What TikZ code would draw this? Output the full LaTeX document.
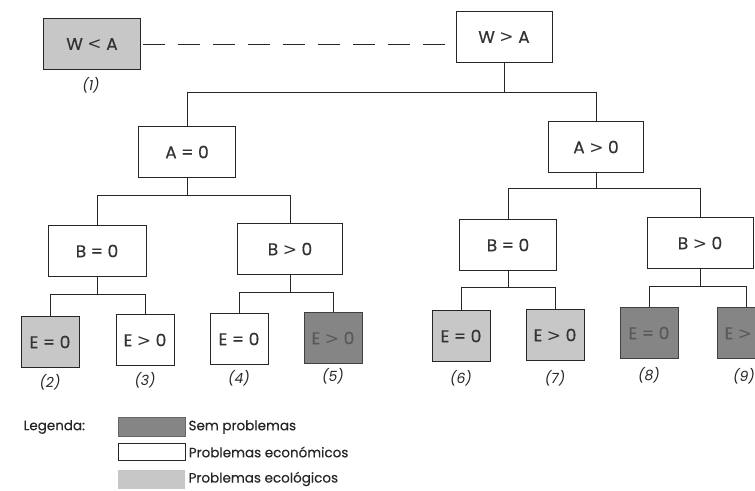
\documentclass[tikz,border=0pt]{standalone}
\usepackage{fontspec}
\setmainfont{Poppins}
\newfontfamily\symfont{DejaVu Sans}
\newcommand{\lt}{{\symfont\addfontfeature{FakeBold=0}<}}
\newcommand{\gt}{{\symfont\addfontfeature{FakeBold=0}>}}
\begin{document}
\begin{tikzpicture}[x=1pt,y=-1pt,
  box/.style={draw=black!85,line width=0.8pt,minimum width=97pt,minimum height=51pt,inner sep=0pt,font=\fontsize{17}{19}\selectfont\addfontfeature{FakeBold=0.4},text=black!80},
  leaf/.style={box,minimum width=58pt},
  eco/.style={fill=black!22},
  sem/.style={fill=black!48,draw=black!75,text=black!65},
  lab/.style={font=\fontsize{14}{16}\selectfont\itshape,text=black!85},
  con/.style={draw=black!85,line width=0.7pt},
  leg/.style={font=\fontsize{13.5}{15}\selectfont\addfontfeature{FakeBold=0.3},text=black!85,anchor=west}]
\path[use as bounding box] (0,0) rectangle (755,490);
\begin{scope}
\clip (0,0) rectangle (755,490);
% top level
\node[box,eco] (wlt) at (92,44) {W \lt{} A};
\node[box,minimum width=96pt] (wgt) at (504,37) {W \gt{} A};
\node[lab] (l1) at (91,85) {(1)};
% second level
\node[box] (a0) at (187,152) {A = 0};
\node[box,minimum width=95pt] (ag) at (596,147) {A \gt{} 0};
% third level
\node[box,minimum width=98pt] (b0l) at (97,251) {B = 0};
\node[box,minimum width=105pt] (bgl) at (290,249) {B \gt{} 0};
\node[box] (b0r) at (508,245) {B = 0};
\node[box,minimum width=106pt] (bgr) at (700,243) {B \gt{} 0};
% leaves
\node[leaf,eco] (e1) at (50,342) {E = 0};
\node[leaf] (e2) at (145,340) {E \gt{} 0};
\node[leaf] (e3) at (239,339) {E = 0};
\node[leaf,sem] (e4) at (333,338) {E \gt{} 0};
\node[leaf,eco] (e5) at (461,336) {E = 0};
\node[leaf,eco] (e6) at (555,335) {E \gt{} 0};
\node[leaf,sem] (e7) at (649,333) {E = 0};
\node[leaf,sem] (e8) at (746,333) {E \gt{} 0};
% leaf labels
\node[lab] (l2) at (50,382) {(2)};
\node[lab] (l3) at (145,380) {(3)};
\node[lab] (l4) at (239,378) {(4)};
\node[lab] (l5) at (333,376) {(5)};
\node[lab] (l6) at (461,378) {(6)};
\node[lab] (l7) at (555,378) {(7)};
\node[lab] (l8) at (649,375) {(8)};
\node[lab] (l9) at (744,376) {(9)};
% connectors
\draw[con,dash pattern=on 22pt off 13pt,dash phase=-2pt] (wlt.east) -- (wlt.east -| wgt.west);
\draw[con] (wgt.south) -- (wgt.south |- 0,92) -| (a0.north);
\draw[con] (wgt.south) -- (wgt.south |- 0,92) -| (ag.north);
\draw[con] (a0.south) -- (a0.south |- 0,195) -| (b0l.north);
\draw[con] (a0.south) -- (a0.south |- 0,195) -| (bgl.north);
\draw[con] (ag.south) -- (ag.south |- 0,188) -| (b0r.north);
\draw[con] (ag.south) -- (ag.south |- 0,188) -| (bgr.north);
\draw[con] (b0l.south) -- (b0l.south |- 0,294) -| (e1.north);
\draw[con] (b0l.south) -- (b0l.south |- 0,294) -| (e2.north);
\draw[con] (bgl.south) -- (bgl.south |- 0,292) -| (e3.north);
\draw[con] (bgl.south) -- (bgl.south |- 0,292) -| (e4.north);
\draw[con] (b0r.south) -- (b0r.south |- 0,287) -| (e5.north);
\draw[con] (b0r.south) -- (b0r.south |- 0,287) -| (e6.north);
\draw[con] (bgr.south) -- (bgr.south |- 0,286) -| (e7.north);
\draw[con] (bgr.south) -- (bgr.south |- 0,286) -| (e8.north);
% legend
\node[leg] (lg) at (20,427) {Legenda:};
\node[draw=black!60,fill=black!48,minimum width=67pt,minimum height=19pt,inner sep=0pt,anchor=west] (s1) at (118,427) {};
\node[draw=black!85,line width=0.6pt,minimum width=67pt,minimum height=17pt,inner sep=0pt,anchor=west] (s2) at (118,452) {};
\node[fill=black!22,minimum width=67pt,minimum height=19pt,inner sep=0pt,anchor=west] (s3) at (118,479) {};
\node[leg,inner sep=3pt] (t1) at (s1.east) {Sem problemas};
\node[leg,inner sep=3pt] (t2) at (s2.east) {Problemas económicos};
\node[leg,inner sep=3pt] (t3) at (s3.east) {Problemas ecológicos};
\end{scope}
\end{tikzpicture}
\end{document}
